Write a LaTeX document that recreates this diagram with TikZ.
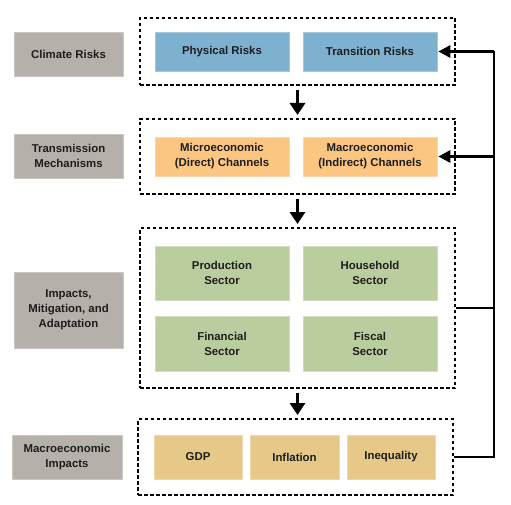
\documentclass[tikz,border=0pt]{standalone}
\usepackage{fontspec}
\setmainfont{Liberation Sans}
\usetikzlibrary{arrows.meta}
\definecolor{cgray}{HTML}{B5B0AA}
\definecolor{cblue}{HTML}{7EB0CF}
\definecolor{corange}{HTML}{FBC582}
\definecolor{cgreen}{HTML}{BACD9F}
\definecolor{cyellow}{HTML}{E6C988}
\definecolor{ctext}{HTML}{1E1E1E}
\tikzset{
  cell/.style={rectangle, inner sep=0pt, align=center, text=ctext,
    font=\fontsize{11.4}{15}\selectfont\bfseries},
  graybox/.style={cell, fill=cgray, draw=cgray!70!white, line width=0.6pt},
  bluebox/.style={cell, fill=cblue, draw=cblue!70!white, line width=0.6pt},
  orangebox/.style={cell, fill=corange, draw=corange!70!white, line width=0.6pt},
  greenbox/.style={cell, fill=cgreen, draw=cgreen!70!white, line width=0.6pt},
  yellowbox/.style={cell, fill=cyellow, draw=cyellow!70!white, line width=0.6pt},
  group/.style={rectangle, draw=black, line width=2pt, dash pattern=on 3.5pt off 2.5pt, inner sep=0pt},
  downarrow/.style={line width=3.2pt, -{Triangle[length=12pt,width=15pt]}, shorten <=4pt, shorten >=3pt},
  rail/.style={line width=2.8pt},
  railarrow/.style={line width=2.8pt, -{Triangle[length=12pt,width=12pt]}, shorten >=1pt},
}
\newcommand{\boxat}[6]{\node[#1, minimum width={(#4)-(#2)}, minimum height={(#5)-(#3)}] (#6) at ({((#2)+(#4))/2},{((#3)+(#5))/2})}
\begin{document}
\begin{tikzpicture}[x=1pt,y=-1pt]
\useasboundingbox (0,0) rectangle (511,505);
% left labels
\boxat{graybox}{14}{32}{123}{76}{l1} {Climate Risks};
\boxat{graybox}{14}{134}{123}{178}{l2} {Transmission\\Mechanisms};
\boxat{graybox}{14}{272}{123}{348}{l3} {Impacts,\\Mitigation, and\\Adaptation};
\boxat{graybox}{12}{435}{122}{479}{l4} {Macroeconomic\\Impacts};
% groups
\boxat{group}{140}{18}{455}{85}{g1} {};
\boxat{group}{140}{119}{455}{194}{g2} {};
\boxat{group}{140}{228}{455}{388}{g3} {};
\boxat{group}{138}{419}{453}{495}{g4} {};
% row 1
\boxat{bluebox}{155}{32}{289}{71}{phys} {Physical Risks};
\boxat{bluebox}{303}{32}{437}{71}{trans} {Transition Risks};
% row 2
\boxat{orangebox}{155}{137}{289}{176}{micro} {Microeconomic\\(Direct) Channels};
\boxat{orangebox}{303}{137}{437}{176}{macro} {Macroeconomic\\(Indirect) Channels};
% row 3
\boxat{greenbox}{155}{246}{289}{300}{prod} {Production\\Sector};
\boxat{greenbox}{303}{246}{437}{300}{house} {Household\\Sector};
\boxat{greenbox}{155}{316}{289}{371}{fin} {Financial\\Sector};
\boxat{greenbox}{303}{316}{437}{371}{fisc} {Fiscal\\Sector};
% row 4
\boxat{yellowbox}{154}{435}{242}{479}{gdp} {GDP};
\boxat{yellowbox}{250}{435}{339}{479}{infl} {Inflation};
\boxat{yellowbox}{347}{435}{435}{479}{ineq} {Inequality};
% down arrows
\draw[downarrow] (g1.south) -- (g2.north);
\draw[downarrow] (g2.south) -- (g3.north);
\draw[downarrow] (g3.south) -- (g3.south |- g4.north);
% feedback rail
\coordinate (railx) at (494,0);
\draw[rail] (g3.east) -- (g3.east -| railx);
\draw[rail] (g4.east) -- (g4.east -| railx) -- (trans.east -| railx);
\draw[railarrow] (trans.east -| railx) -- (trans.east);
\draw[railarrow] (macro.east -| railx) -- (macro.east);
\end{tikzpicture}
\end{document}
